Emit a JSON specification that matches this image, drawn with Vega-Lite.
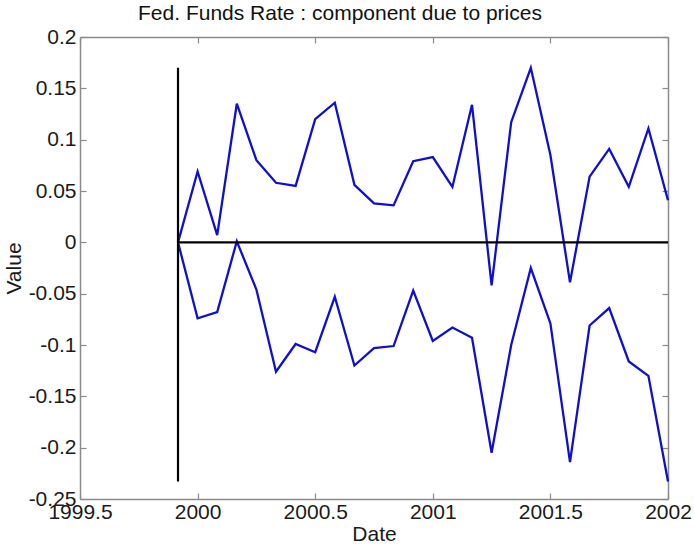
{
  "$schema": "https://vega.github.io/schema/vega-lite/v6.json",
  "width": 588,
  "height": 462,
  "autosize": {"type": "none"},
  "padding": {"left": 80, "top": 37, "right": 26, "bottom": 47},
  "background": "white",
  "title": {
    "text": "Fed. Funds Rate : component due to prices",
    "font": "Liberation Sans",
    "fontSize": 21,
    "fontWeight": "normal",
    "color": "#111111",
    "anchor": "middle",
    "dx": -34,
    "offset": 2
  },
  "config": {
    "view": {"stroke": null},
    "axis": {
      "grid": false,
      "labelFlush": false,
      "labelOverlap": false,
      "domainColor": "#8a8a8a",
      "domainWidth": 1.5,
      "tickColor": "#8a8a8a",
      "tickWidth": 1.2,
      "tickSize": -6,
      "labelFont": "Liberation Sans",
      "labelFontSize": 21,
      "labelColor": "#1a1a1a",
      "titleFont": "Liberation Sans",
      "titleFontSize": 21,
      "titleFontWeight": "normal",
      "titleColor": "#1a1a1a"
    }
  },
  "datasets": {
    "bands": [
      {"date": 1999.9167, "band": "upper", "value": 0.0},
      {"date": 2000.0, "band": "upper", "value": 0.069},
      {"date": 2000.0833, "band": "upper", "value": 0.007},
      {"date": 2000.1667, "band": "upper", "value": 0.135},
      {"date": 2000.25, "band": "upper", "value": 0.08},
      {"date": 2000.3333, "band": "upper", "value": 0.058},
      {"date": 2000.4167, "band": "upper", "value": 0.055},
      {"date": 2000.5, "band": "upper", "value": 0.12},
      {"date": 2000.5833, "band": "upper", "value": 0.136},
      {"date": 2000.6667, "band": "upper", "value": 0.056},
      {"date": 2000.75, "band": "upper", "value": 0.038},
      {"date": 2000.8333, "band": "upper", "value": 0.036},
      {"date": 2000.9167, "band": "upper", "value": 0.079},
      {"date": 2001.0, "band": "upper", "value": 0.083},
      {"date": 2001.0833, "band": "upper", "value": 0.054},
      {"date": 2001.1667, "band": "upper", "value": 0.134},
      {"date": 2001.25, "band": "upper", "value": -0.042},
      {"date": 2001.3333, "band": "upper", "value": 0.117},
      {"date": 2001.4167, "band": "upper", "value": 0.17},
      {"date": 2001.5, "band": "upper", "value": 0.085},
      {"date": 2001.5833, "band": "upper", "value": -0.039},
      {"date": 2001.6667, "band": "upper", "value": 0.064},
      {"date": 2001.75, "band": "upper", "value": 0.091},
      {"date": 2001.8333, "band": "upper", "value": 0.054},
      {"date": 2001.9167, "band": "upper", "value": 0.111},
      {"date": 2002.0, "band": "upper", "value": 0.041},
      {"date": 1999.9167, "band": "lower", "value": 0.0},
      {"date": 2000.0, "band": "lower", "value": -0.074},
      {"date": 2000.0833, "band": "lower", "value": -0.068},
      {"date": 2000.1667, "band": "lower", "value": 0.001},
      {"date": 2000.25, "band": "lower", "value": -0.046},
      {"date": 2000.3333, "band": "lower", "value": -0.126},
      {"date": 2000.4167, "band": "lower", "value": -0.099},
      {"date": 2000.5, "band": "lower", "value": -0.107},
      {"date": 2000.5833, "band": "lower", "value": -0.053},
      {"date": 2000.6667, "band": "lower", "value": -0.12},
      {"date": 2000.75, "band": "lower", "value": -0.103},
      {"date": 2000.8333, "band": "lower", "value": -0.101},
      {"date": 2000.9167, "band": "lower", "value": -0.047},
      {"date": 2001.0, "band": "lower", "value": -0.096},
      {"date": 2001.0833, "band": "lower", "value": -0.083},
      {"date": 2001.1667, "band": "lower", "value": -0.093},
      {"date": 2001.25, "band": "lower", "value": -0.205},
      {"date": 2001.3333, "band": "lower", "value": -0.1},
      {"date": 2001.4167, "band": "lower", "value": -0.025},
      {"date": 2001.5, "band": "lower", "value": -0.079},
      {"date": 2001.5833, "band": "lower", "value": -0.214},
      {"date": 2001.6667, "band": "lower", "value": -0.081},
      {"date": 2001.75, "band": "lower", "value": -0.064},
      {"date": 2001.8333, "band": "lower", "value": -0.116},
      {"date": 2001.9167, "band": "lower", "value": -0.13},
      {"date": 2002.0, "band": "lower", "value": -0.233}
    ],
    "vline": [{"date": 1999.9167, "lo": -0.233, "hi": 0.17}],
    "hline": [{"start": 1999.9167, "end": 2002.0, "value": 0.0}],
    "frame": [{"date": 2002.0, "value": 0.2}]
  },
  "resolve": {"axis": {"x": "independent", "y": "independent"}},
  "layer": [
    {
      "data": {"name": "frame"},
      "mark": {"type": "point", "opacity": 0},
      "encoding": {
        "x": {"field": "date", "type": "quantitative",
          "scale": {"domain": [1999.5, 2002], "nice": false, "zero": false},
          "axis": {"orient": "top", "labels": false, "title": null, "minExtent": 0, "maxExtent": 0,
            "values": [1999.5, 2000, 2000.5, 2001, 2001.5, 2002]}},
        "y": {"field": "value", "type": "quantitative",
          "scale": {"domain": [-0.25, 0.2], "nice": false, "zero": false},
          "axis": {"orient": "right", "labels": false, "title": null, "minExtent": 0, "maxExtent": 0,
            "values": [-0.25, -0.2, -0.15, -0.1, -0.05, 0, 0.05, 0.1, 0.15, 0.2]}}
      }
    },
    {
      "data": {"name": "bands"},
      "mark": {"type": "line", "color": "#1010cc", "strokeWidth": 2.3},
      "encoding": {
        "x": {"field": "date", "type": "quantitative",
          "scale": {"domain": [1999.5, 2002], "nice": false, "zero": false},
          "axis": {"orient": "bottom", "title": "Date", "format": "~g",
            "values": [1999.5, 2000, 2000.5, 2001, 2001.5, 2002],
            "labelPadding": 8, "titlePadding": 1}},
        "y": {"field": "value", "type": "quantitative",
          "scale": {"domain": [-0.25, 0.2], "nice": false, "zero": false},
          "axis": {"orient": "left", "title": "Value", "format": "~g",
            "labelExpr": "replace(datum.label, '\u2212', '-')",
            "values": [-0.25, -0.2, -0.15, -0.1, -0.05, 0, 0.05, 0.1, 0.15, 0.2],
            "labelPadding": 10, "titlePadding": 4}},
        "detail": {"field": "band", "type": "nominal"}
      }
    },
    {
      "data": {"name": "vline"},
      "mark": {"type": "rule", "color": "#000000", "strokeWidth": 2.2},
      "encoding": {
        "x": {"field": "date", "type": "quantitative", "axis": null},
        "y": {"field": "lo", "type": "quantitative", "axis": null},
        "y2": {"field": "hi"}
      }
    },
    {
      "data": {"name": "hline"},
      "mark": {"type": "rule", "color": "#000000", "strokeWidth": 2.2},
      "encoding": {
        "x": {"field": "start", "type": "quantitative", "axis": null},
        "x2": {"field": "end"},
        "y": {"field": "value", "type": "quantitative", "axis": null}
      }
    }
  ]
}
